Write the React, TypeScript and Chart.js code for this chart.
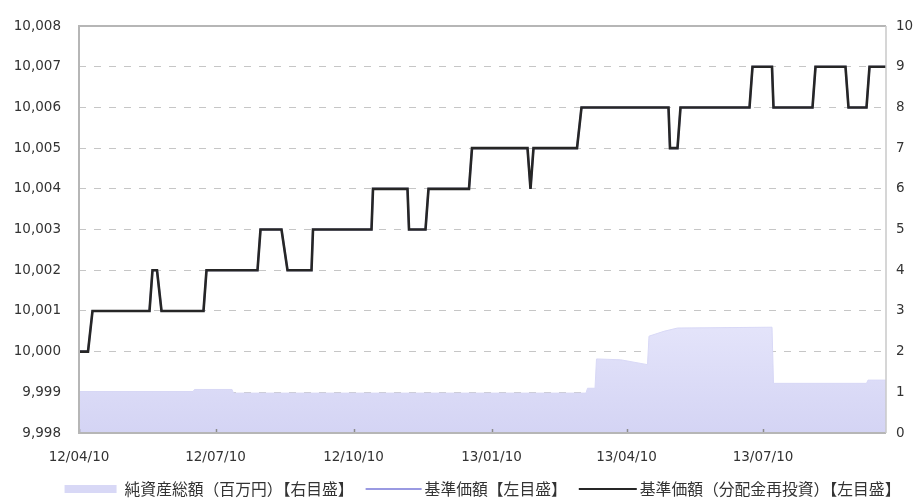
import { useEffect, useRef } from 'react';
import { Chart, registerables } from 'chart.js';

Chart.register(...registerables);

// ---- data (x = days since 2012-04-10) ----
const startDate = [2012, 4, 10];
const endDay = 538; // 2013-09-30

const xTickLabels = ['12/04/10', '12/07/10', '12/10/10', '13/01/10', '13/04/10', '13/07/10'];

const leftMin = 9998;
const leftMax = 10008;
const rightMin = 0;
const rightMax = 10;

// 基準価額（分配金再投資）: step points
const navDays = [
  0, 6, 9, 47, 49, 52, 55, 83, 85, 119, 121, 135, 139, 155, 156, 195, 196, 219, 220, 231, 233,
  260, 262, 299, 301, 303, 332, 335, 393, 394, 399, 401, 447, 449, 462, 463, 489, 491, 511, 513,
  525, 527, 538,
];
const navValues = [
  10000, 10000, 10001, 10001, 10002, 10002, 10001, 10001, 10002, 10002, 10003, 10003, 10002,
  10002, 10003, 10003, 10004, 10004, 10003, 10003, 10004, 10004, 10005, 10005, 10004, 10005,
  10005, 10006, 10006, 10005, 10005, 10006, 10006, 10007, 10007, 10006, 10006, 10007, 10007,
  10006, 10006, 10007, 10007,
];

// 基準価額 (no distributions -> identical to reinvested series)
const baseDays = navDays;
const baseValues = navValues;

// 純資産総額（百万円）
const assetDays = [0, 76, 77, 102, 103, 338, 339, 344, 345, 361, 379, 380, 390, 399, 462, 463, 525, 526, 538];
const assetValues = [1.02, 1.02, 1.07, 1.07, 0.98, 0.98, 1.1, 1.1, 1.82, 1.8, 1.68, 2.38, 2.5, 2.58, 2.6, 1.22, 1.22, 1.3, 1.3];

const legendLabels = ['純資産総額（百万円）【右目盛】', '基準価額【左目盛】', '基準価額（分配金再投資）【左目盛】'];

// ---- helpers ----
const DAY_MS = 86400000;
const startMs = Date.UTC(startDate[0], startDate[1] - 1, startDate[2]);
function labelToDay(label: string): number {
  const [yy, mm, dd] = label.split('/').map(Number);
  return Math.round((Date.UTC(2000 + yy, mm - 1, dd) - startMs) / DAY_MS);
}
const tickDays = xTickLabels.map(labelToDay);
const toPoints = (xs: number[], ys: number[]) => xs.map((x, i) => ({ x, y: ys[i] }));
const fmt = (v: number) => {
  const s = String(Math.round(v));
  return s.replace(/\B(?=(\d{3})+(?!\d))/g, ',');
};

const TICK_FONT = { family: '"DejaVu Sans", sans-serif', size: 13.5 };
const TICK_COLOR = '#333333';

const AREA_COLOR = '#d8d8f6';
const BLUE = '#9a9ae2';
const BLACK = '#262626';

const framePlugin = {
  id: 'frameAndLegend',
  afterDatasetsDraw(chart: any) {
    const { ctx, chartArea: a } = chart;
    ctx.save();
    // small x tick marks
    ctx.strokeStyle = '#8c8c8c';
    ctx.lineWidth = 1.5;
    for (const d of tickDays) {
      const px = Math.round(chart.scales.x.getPixelForValue(d)) + 0.5;
      ctx.beginPath();
      ctx.moveTo(px, a.bottom);
      ctx.lineTo(px, a.bottom - 4);
      ctx.stroke();
    }
    // frame
    ctx.strokeStyle = '#b6b6b6';
    ctx.lineWidth = 2;
    ctx.beginPath();
    ctx.moveTo(a.right, a.top);
    ctx.lineTo(a.left, a.top);
    ctx.lineTo(a.left, a.bottom);
    ctx.lineTo(a.right, a.bottom);
    ctx.stroke();
    ctx.strokeStyle = '#c8c8c8';
    ctx.lineWidth = 1.5;
    ctx.beginPath();
    ctx.moveTo(a.right, a.top);
    ctx.lineTo(a.right, a.bottom);
    ctx.stroke();
    ctx.restore();
  },
  afterDraw(chart: any) {
    const { ctx, chartArea: a } = chart;
    ctx.save();
    ctx.font = '15.8px "Noto Sans CJK JP", sans-serif';
    ctx.textBaseline = 'middle';
    ctx.fillStyle = '#333333';
    const symW = [52, 56, 58];
    const gapAfterSym = [8, 3, 3];
    const gapBetween = 12;
    const widths = legendLabels.map((t) => ctx.measureText(t).width);
    let total = 0;
    for (let i = 0; i < legendLabels.length; i++) {
      total += symW[i] + gapAfterSym[i] + widths[i];
      if (i < legendLabels.length - 1) total += gapBetween;
    }
    let x = (a.left + a.right) / 2 - total / 2;
    const y = 489;
    for (let i = 0; i < legendLabels.length; i++) {
      if (i === 0) {
        ctx.fillStyle = AREA_COLOR;
        ctx.fillRect(x, y - 4, symW[i], 8);
      } else {
        ctx.strokeStyle = i === 1 ? BLUE : BLACK;
        ctx.lineWidth = 2;
        ctx.beginPath();
        ctx.moveTo(x, y);
        ctx.lineTo(x + symW[i], y);
        ctx.stroke();
      }
      x += symW[i] + gapAfterSym[i];
      ctx.fillStyle = '#333333';
      ctx.fillText(legendLabels[i], x, y);
      x += widths[i] + gapBetween;
    }
    ctx.restore();
  },
};

export default function App() {
  const ref = useRef<HTMLCanvasElement | null>(null);

  useEffect(() => {
    document.body.style.margin = '0';
    const canvas = ref.current;
    if (!canvas) return;
    const chart = new Chart(canvas, {
      type: 'line',
      data: {
        datasets: [
          {
            label: legendLabels[2],
            data: toPoints(navDays, navValues),
            yAxisID: 'y',
            borderColor: BLACK,
            borderWidth: 2.6,
            pointRadius: 0,
            tension: 0,
            order: 0,
          },
          {
            label: legendLabels[1],
            data: toPoints(baseDays, baseValues),
            yAxisID: 'y',
            borderColor: BLUE,
            borderWidth: 2,
            pointRadius: 0,
            tension: 0,
            order: 1,
          },
          {
            label: legendLabels[0],
            data: toPoints(assetDays, assetValues),
            yAxisID: 'y1',
            borderColor: AREA_COLOR,
            borderWidth: 1,
            pointRadius: 0,
            tension: 0,
            fill: 'origin',
            backgroundColor: (c: any) => {
              const area = c.chart.chartArea;
              if (!area) return AREA_COLOR;
              const g = c.chart.ctx.createLinearGradient(0, area.bottom, 0, c.chart.scales.y1.getPixelForValue(3));
              g.addColorStop(0, '#d4d4f4');
              g.addColorStop(1, '#e6e6fb');
              return g;
            },
            order: 2,
          },
        ],
      },
      options: {
        responsive: false,
        animation: false,
        events: [],
        layout: { padding: { top: 22, left: 0, right: 0, bottom: 0 } },
        plugins: {
          legend: { display: false },
          tooltip: { enabled: false },
        },
        scales: {
          x: {
            type: 'linear',
            min: 0,
            max: endDay,
            afterBuildTicks: (s: any) => {
              s.ticks = tickDays.map((v) => ({ value: v }));
            },
            afterFit: (s: any) => {
              s.height = 65;
            },
            ticks: {
              autoSkip: false,
              maxRotation: 0,
              minRotation: 0,
              padding: 16,
              font: TICK_FONT,
              color: TICK_COLOR,
              callback: (v: any) => {
                const i = tickDays.indexOf(Number(v));
                return i >= 0 ? xTickLabels[i] : '';
              },
            },
            grid: { display: false, drawTicks: false },
            border: { display: false },
          },
          y: {
            position: 'left',
            min: leftMin,
            max: leftMax,
            afterFit: (s: any) => {
              s.width = 79;
            },
            ticks: {
              stepSize: 1,
              padding: 18,
              font: TICK_FONT,
              color: TICK_COLOR,
              callback: (v: any) => fmt(Number(v)),
            },
            grid: { color: '#c6c6c6', lineWidth: 1, drawTicks: false },
            border: { display: false, dash: [7, 8] },
          },
          y1: {
            position: 'right',
            min: rightMin,
            max: rightMax,
            afterFit: (s: any) => {
              s.width = 31;
            },
            ticks: {
              stepSize: 1,
              padding: 10,
              font: TICK_FONT,
              color: TICK_COLOR,
            },
            grid: { display: false, drawTicks: false },
            border: { display: false },
          },
        },
      },
      plugins: [framePlugin],
    });
    return () => chart.destroy();
  }, []);

  return (
    <div style={{ width: 917, height: 498, background: '#ffffff' }}>
      <canvas ref={ref} width={917} height={498} style={{ display: 'block' }} />
    </div>
  );
}
